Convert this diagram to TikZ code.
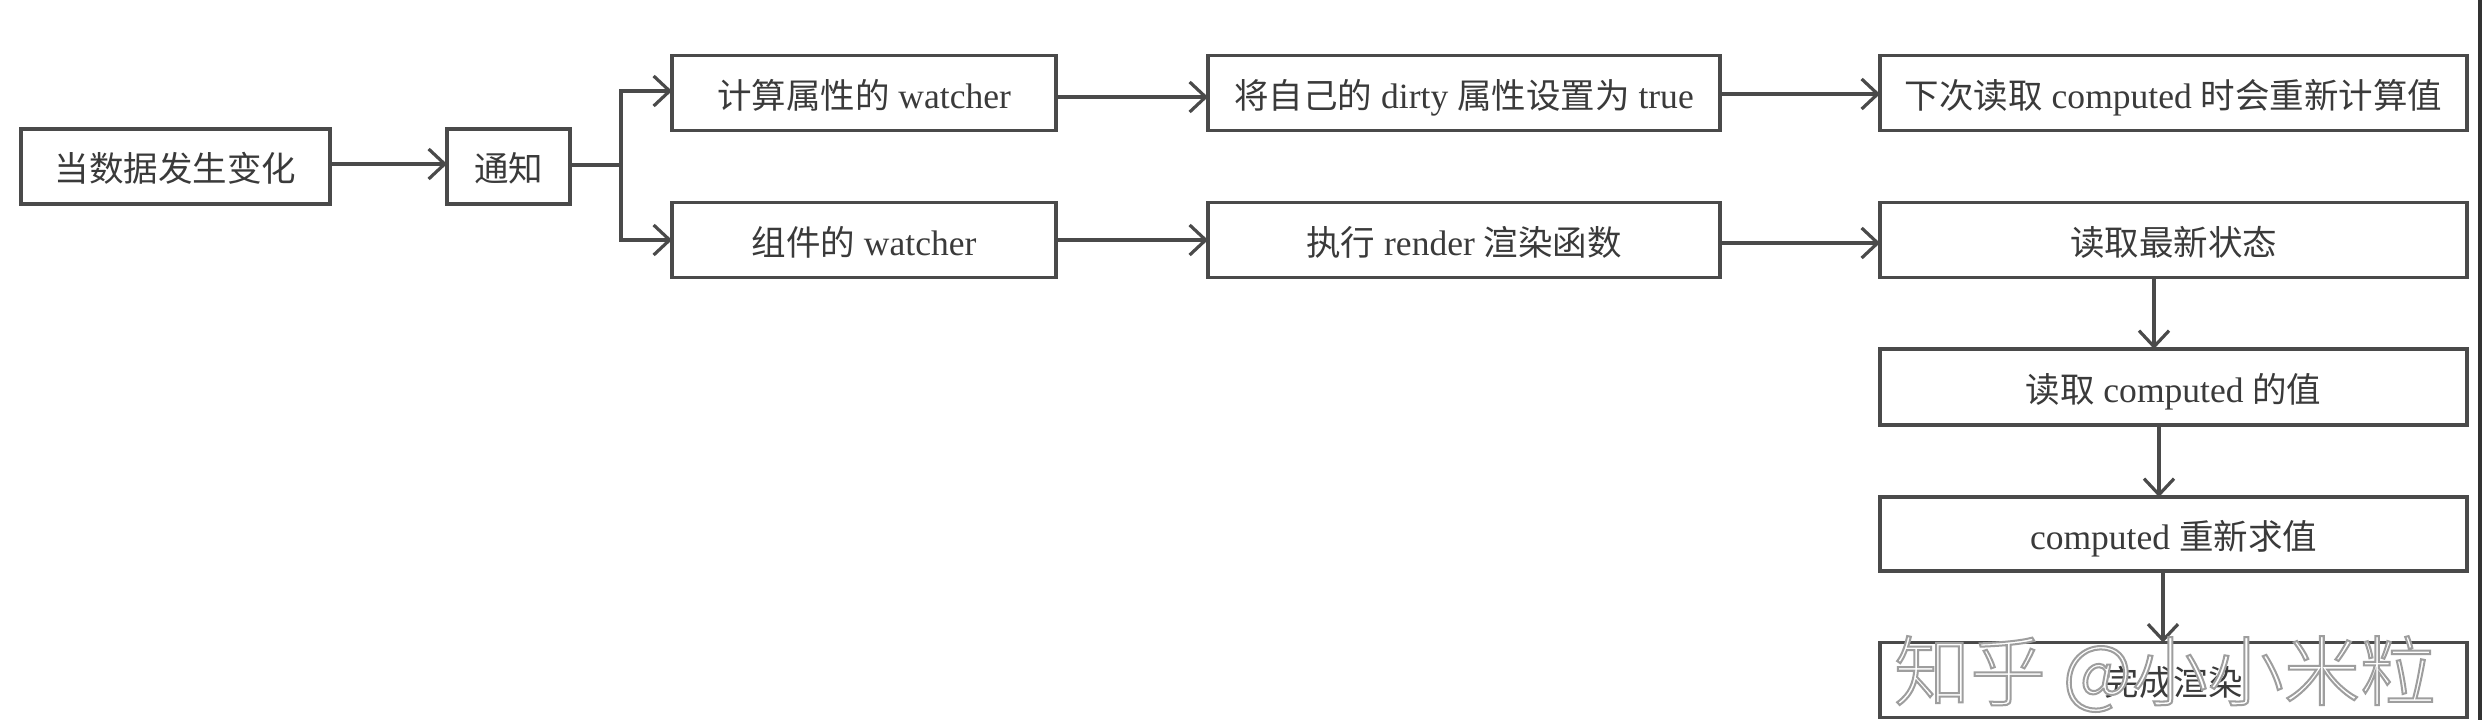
\documentclass[tikz,border=0pt]{standalone}
\usepackage{fontspec}
\usetikzlibrary{arrows.meta}
\setmainfont{Liberation Serif}[Scale=1.03]
\newfontfamily\cjk{Noto Sans CJK SC}
\newfontfamily\wmfont{Noto Sans CJK SC Light}
\definecolor{ink}{HTML}{3A3A3A}
\definecolor{edge}{HTML}{4A4A4A}
\newcommand{\zh}[1]{{\cjk #1}}
\tikzset{
  boxnode/.style={draw=edge,line width=3.4pt,fill=white,inner sep=0pt,outer sep=0pt,text=ink,
    font=\fontsize{34.5}{40}\selectfont,text height=32pt,text depth=2pt},
  link/.style={draw=edge,line width=3.2pt,-{Straight Barb[length=16pt,width=30pt,line width=3.2pt]}},
  stem/.style={draw=edge,line width=3.2pt}
}
\begin{document}
\begin{tikzpicture}[x=1pt,y=-1pt]
\useasboundingbox (0,0) rectangle (2482,720);
\fill[white] (0,0) rectangle (2482,720);
\fill[black!80] (2478,0) rectangle (2482,720);
\node[boxnode,minimum width=309pt,minimum height=75pt] (a) at (175.5,166.5) {\zh{当数据发生变化}};
\node[boxnode,minimum width=123pt,minimum height=75pt] (b) at (508.5,166.5) {\zh{通知}};
\node[boxnode,minimum width=384pt,minimum height=75pt] (c) at (864,93) {\zh{计算属性的} watcher};
\node[boxnode,minimum width=384pt,minimum height=75pt] (d) at (864,240) {\zh{组件的} watcher};
\node[boxnode,minimum width=512pt,minimum height=75pt] (e) at (1464,93) {\zh{将自己的} dirty \zh{属性设置为} true};
\node[boxnode,minimum width=512pt,minimum height=75pt] (f) at (1464,240) {\zh{执行} render \zh{渲染函数}};
\node[boxnode,minimum width=587pt,minimum height=75pt] (g) at (2173.5,93) {\zh{下次读取} computed \zh{时会重新计算值}};
\node[boxnode,minimum width=587pt,minimum height=75pt] (h) at (2173.5,240) {\zh{读取最新状态}};
\node[boxnode,minimum width=587pt,minimum height=76pt] (i) at (2173.5,387) {\zh{读取} computed \zh{的值}};
\node[boxnode,minimum width=587pt,minimum height=74pt] (j) at (2173.5,534) {computed \zh{重新求值}};
\node[boxnode,minimum width=587pt,minimum height=75pt] (k) at (2173.5,680) {\zh{完成渲染}};
\coordinate (split) at (621,165);
\draw[link] ([yshift=2.5pt]a.east) -- ([yshift=2.5pt]b.west);
\draw[stem] ([yshift=1.5pt]b.east) -- (split);
\draw[link] (split) |- ([yshift=2pt]c.west);
\draw[link] (split) |- (d.west);
\draw[link] ([yshift=-4pt]c.east) -- ([yshift=-4pt]e.west);
\draw[link] (d.east) -- (f.west);
\draw[link] ([yshift=-1pt]e.east) -- ([yshift=-1pt]g.west);
\draw[link] ([yshift=-3pt]f.east) -- ([yshift=-3pt]h.west);
\draw[link] ([xshift=-19.5pt]h.south) -- ([xshift=-19.5pt]i.north);
\draw[link] ([xshift=-14.5pt]i.south) -- ([xshift=-14.5pt]j.north);
\draw[link] ([xshift=-10.5pt]j.south) -- ([xshift=-10.5pt]k.north);
\node[inner sep=0pt,font=\wmfont\fontsize{76}{84}\selectfont] (wm) at (2165,674)
  {\special{pdf:code q 2 Tr 2 w 0.62 G 1 g}知乎 @小小米粒\special{pdf:code Q}};
\end{tikzpicture}
\end{document}
